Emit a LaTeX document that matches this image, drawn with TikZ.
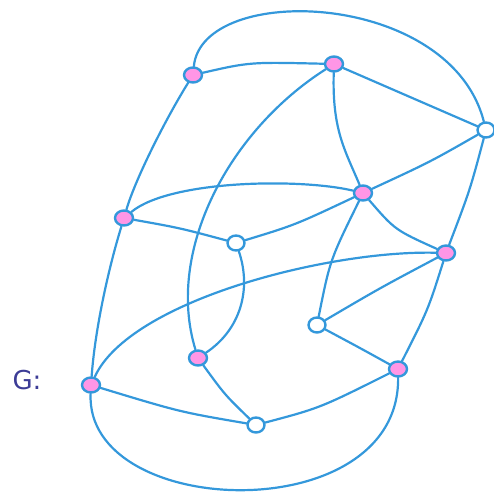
\documentclass[tikz,border=0pt]{standalone}
\usepackage{fontspec}
\newfontfamily\labelfont{DejaVu Sans}
\usetikzlibrary{shapes.geometric}
\definecolor{edgeblue}{RGB}{52,152,219}
\definecolor{blobpink}{RGB}{255,150,230}
\definecolor{inkblue}{RGB}{60,60,150}
\tikzset{
  x=1pt, y=-1pt,
  edge/.style={draw=edgeblue, line width=2.2pt, line cap=round},
  vpink/.style={ellipse, draw=edgeblue, line width=2.4pt, fill=blobpink, minimum width=18pt, minimum height=15pt, inner sep=0pt},
  vwhite/.style={ellipse, draw=edgeblue, line width=2.4pt, fill=white, minimum width=17pt, minimum height=15pt, inner sep=0pt},
}
\begin{document}
\begin{tikzpicture}
\useasboundingbox (0,0) rectangle (494,492);
% vertices
\node[vpink]  (A) at (193,75) {};
\node[vpink]  (B) at (334,64) {};
\node[vwhite] (C) at (486,130) {};
\node[vpink]  (D) at (124,218) {};
\node[vpink]  (E) at (363,193) {};
\node[vwhite] (F) at (236,243) {};
\node[vpink]  (G) at (446,253) {};
\node[vwhite] (H) at (317,325) {};
\node[vpink]  (I) at (198,358) {};
\node[vpink]  (J) at (91,385) {};
\node[vpink]  (K) at (398,369) {};
\node[vwhite] (L) at (256,425) {};
\node[text=inkblue, font=\labelfont\fontsize{26}{26}\selectfont, anchor=center] (lab) at (27,380) {G:};
% edges
\draw[edge] (A) .. controls (250,62) .. (B);
\draw[edge] (A) .. controls (202,-18) and (450,-10) .. (C);
\draw[edge] (B) -- (C);
\draw[edge] (B) .. controls (332,130) and (345,150) .. (E);
\draw[edge] (B) .. controls (230,130) and (165,250) .. (I);
\draw[edge] (A) .. controls (165,120) and (135,180) .. (D);
\draw[edge] (D) .. controls (108,270) and (95,330) .. (J);
\draw[edge] (D) .. controls (170,180) and (300,178) .. (E);
\draw[edge] (D) .. controls (180,228) .. (F);
\draw[edge] (F) .. controls (295,225) .. (E);
\draw[edge] (E) .. controls (430,162) .. (C);
\draw[edge] (E) .. controls (395,230) .. (G);
\draw[edge] (E) .. controls (330,260) .. (H);
\draw[edge] (C) .. controls (470,190) .. (G);
\draw[edge] (J) .. controls (130,300) and (330,250) .. (G);
\draw[edge] (H) .. controls (380,288) .. (G);
\draw[edge] (G) .. controls (428,310) .. (K);
\draw[edge] (H) .. controls (360,348) .. (K);
\draw[edge] (F) .. controls (252,290) and (240,330) .. (I);
\draw[edge] (I) .. controls (225,395) .. (L);
\draw[edge] (J) .. controls (180,412) .. (L);
\draw[edge] (L) .. controls (320,408) .. (K);
\draw[edge] (J) .. controls (85,520) and (400,530) .. (K);
\end{tikzpicture}
\end{document}
